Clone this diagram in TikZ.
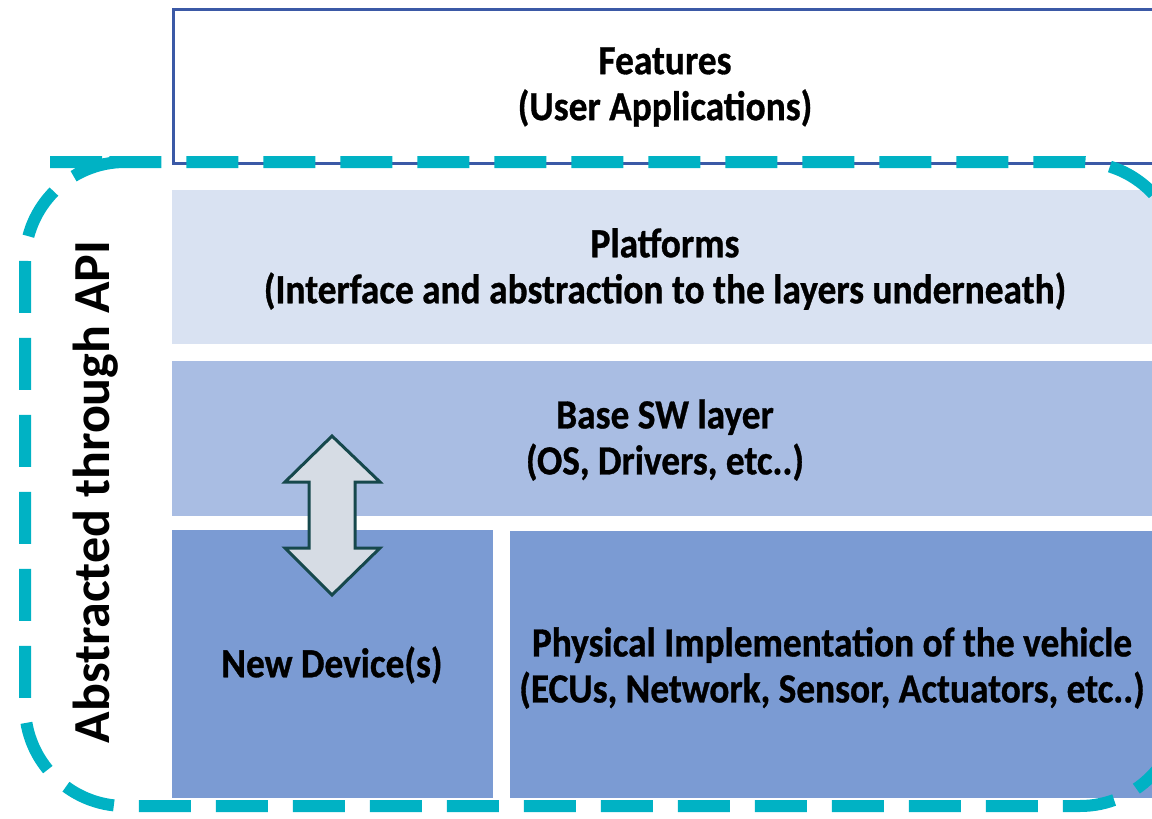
\documentclass[tikz,border=0pt]{standalone}
\usepackage{fontspec}
\setmainfont{Carlito}
\newfontfamily\tallfont[FakeStretch=0.9, FakeBold=0.8]{Carlito Bold}

\definecolor{featline}{RGB}{59,89,166}
\definecolor{platfill}{RGB}{217,226,242}
\definecolor{basefill}{RGB}{169,189,227}
\definecolor{hwfill}{RGB}{123,155,211}
\definecolor{apicyan}{RGB}{0,178,196}
\definecolor{arrowfill}{RGB}{214,220,228}
\definecolor{arrowline}{RGB}{22,72,76}

\begin{document}
\begin{tikzpicture}[x=1pt,y=-1pt]
\tikzstyle{every node}+=[inner sep=0pt, font=\tallfont\fontsize{41.5}{46}\selectfont, align=center]
\tikzstyle{layer}=[anchor=north west, draw=none]
\useasboundingbox (0,0) rectangle (1152,819);
% features
\node [layer, draw=featline, line width=3pt, fill=white, minimum width=1000pt, minimum height=154pt] (feat) at (172,8) {};
\node (feattxt) at (665,87) {Features\\(User Applications)};
% layers
\node [layer, fill=platfill, minimum width=1000pt, minimum height=154pt] (plat) at (172,190) {};
\node (plattxt) at (665,269) {Platforms\\(Interface and abstraction to the layers underneath)};
\node [layer, fill=basefill, minimum width=1000pt, minimum height=155pt] (base) at (172,361) {};
\node (basetxt) at (665,440) {Base SW layer\\(OS, Drivers, etc..)};
\node [layer, fill=hwfill, minimum width=321pt, minimum height=268pt] (newdev) at (172,530) {};
\node (newdevtxt) at (332,665) {New Device(s)};
\node [layer, fill=hwfill, minimum width=700pt, minimum height=267pt] (phys) at (510,531) {};
\node (phystxt) at (832,668) {Physical Implementation of the vehicle\\(ECUs, Network, Sensor, Actuators, etc..)};
% double arrow between base layer and new device
\draw [draw=arrowline, fill=arrowfill, line width=3pt, line join=miter]
  (332,436) -- (380,482) -- (355,482) -- (355,548) -- (380,548) -- (332,595)
  -- (285,548) -- (309,548) -- (309,482) -- (285,482) -- cycle;
% api boundary
\draw [apicyan, line width=12pt, dash pattern=on 52pt off 25pt, rounded corners=100pt]
  (150,162) -- (25,162) -- (25,806) -- (1180,806) -- (1180,162) -- cycle;
\node [rotate=90, font=\fontsize{52}{56}\selectfont\bfseries] (api) at (96,492) {Abstracted through API};
\end{tikzpicture}
\end{document}
